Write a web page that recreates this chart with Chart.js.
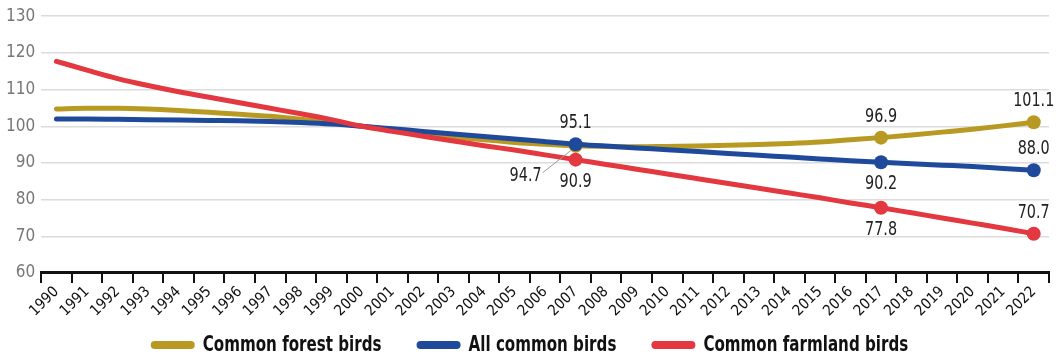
<!DOCTYPE html>
<html>
<head>
<meta charset="utf-8">
<script src="https://cdn.jsdelivr.net/npm/chart.js@4"></script>
<style>
  html, body { margin: 0; padding: 0; background: #fff; }
  #wrap { width: 1059px; height: 358px; position: relative; }
</style>
</head>
<body>
<div id="wrap"><canvas id="c"></canvas></div>
<script>
const years = ['1990','1991','1992','1993','1994','1995','1996','1997','1998','1999','2000','2001','2002','2003','2004','2005','2006','2007','2008','2009','2010','2011','2012','2013','2014','2015','2016','2017','2018','2019','2020','2021','2022'];

const forestBirds = [104.7,104.9,104.9,104.7,104.3,103.8,103.3,102.7,101.9,101.0,100.0,99.0,98.0,97.1,96.3,95.6,95.1,94.7,94.5,94.4,94.5,94.6,94.8,95.0,95.3,95.7,96.3,96.9,97.6,98.4,99.2,100.1,101.1];
const allBirds = [102.0,102.0,101.9,101.8,101.7,101.6,101.5,101.3,101.0,100.6,100.0,99.3,98.6,97.9,97.2,96.5,95.8,95.1,94.6,94.1,93.6,93.1,92.6,92.1,91.6,91.1,90.6,90.2,89.8,89.4,89.0,88.5,88.0];
const farmlandBirds = [117.7,115.3,113.0,111.1,109.4,107.9,106.4,104.9,103.4,101.8,100.0,98.6,97.3,96.0,94.7,93.5,92.2,90.9,89.6,88.3,87.0,85.7,84.4,83.1,81.8,80.5,79.1,77.8,76.4,75.0,73.6,72.2,70.7];

const seriesNames = ['Common forest birds', 'All common birds', 'Common farmland birds'];
const yTicks = [60, 70, 80, 90, 100, 110, 120, 130];

// Years whose values are marked and labelled
const markedYears = ['2007', '2017', '2022'];

const FONT = "'DejaVu Sans Condensed', 'Liberation Sans Narrow', 'Liberation Sans', sans-serif";
const colors = ['#b89a22', '#1f4a9c', '#e3383f'];
const NARROW = 0.8; // horizontal squeeze for a condensed look

// Label placement per series and year: 'above', 'below', or 'leader'
const labelPlacement = [
  { '2007': 'leader', '2017': 'above', '2022': 'above' },
  { '2007': 'above',  '2017': 'below', '2022': 'above' },
  { '2007': 'below',  '2017': 'below', '2022': 'above' }
];

function radii() {
  return years.map(y => markedYears.includes(y) ? 7 : 0);
}

function narrowText(ctx, txt, x, y, align) {
  ctx.save();
  ctx.translate(x, y);
  ctx.scale(NARROW, 1);
  ctx.textAlign = align || 'center';
  ctx.fillText(txt, 0, 0);
  ctx.restore();
}

const valueLabels = {
  id: 'valueLabels',
  afterDatasetsDraw(chart) {
    const ctx = chart.ctx;
    ctx.save();
    ctx.font = "20px " + FONT;
    ctx.fillStyle = '#222';
    ctx.textBaseline = 'middle';
    chart.data.datasets.forEach((ds, di) => {
      const meta = chart.getDatasetMeta(di);
      markedYears.forEach(y => {
        const idx = years.indexOf(y);
        const pt = meta.data[idx];
        const txt = ds.data[idx].toFixed(1);
        const mode = labelPlacement[di][y];
        if (mode === 'above') {
          narrowText(ctx, txt, pt.x, pt.y - 21);
        } else if (mode === 'below') {
          narrowText(ctx, txt, pt.x, pt.y + 22);
        } else {
          ctx.strokeStyle = '#9a9a9a';
          ctx.lineWidth = 1;
          ctx.beginPath();
          ctx.moveTo(pt.x - 5, pt.y + 5);
          ctx.lineTo(pt.x - 33, pt.y + 27);
          ctx.stroke();
          narrowText(ctx, txt, pt.x - 50, pt.y + 30);
        }
      });
    });
    ctx.restore();
  }
};

// Legend row under the axis: rounded line swatch followed by the series name
const legendRow = {
  id: 'legendRow',
  afterDraw(chart) {
    const ctx = chart.ctx;
    const swatch = 44, gapText = 8, gapItem = 35, y = 345;
    ctx.save();
    ctx.font = "bold 21px " + FONT;
    ctx.textBaseline = 'middle';
    const widths = seriesNames.map(n => ctx.measureText(n).width * NARROW);
    const total = widths.reduce((s, w) => s + swatch + gapText + w, 0) + gapItem * (seriesNames.length - 1);
    let x = (chart.width - total) / 2;
    seriesNames.forEach((n, i) => {
      ctx.strokeStyle = colors[i];
      ctx.lineWidth = 8;
      ctx.lineCap = 'round';
      ctx.beginPath();
      ctx.moveTo(x + 4, y);
      ctx.lineTo(x + swatch - 4, y);
      ctx.stroke();
      x += swatch + gapText;
      ctx.fillStyle = '#111';
      narrowText(ctx, n, x, y + 1, 'left');
      x += widths[i] + gapItem;
    });
    ctx.restore();
  }
};

const seriesData = [forestBirds, allBirds, farmlandBirds];
const drawOrder = [2, 1, 0];

new Chart(document.getElementById('c'), {
  type: 'line',
  data: {
    labels: years,
    datasets: seriesData.map((d, i) => ({
      label: seriesNames[i],
      data: d,
      borderColor: colors[i],
      backgroundColor: colors[i],
      pointBackgroundColor: colors[i],
      pointBorderWidth: 0,
      pointRadius: radii(),
      pointHoverRadius: radii(),
      borderWidth: 5,
      tension: 0.4,
      cubicInterpolationMode: 'monotone',
      borderCapStyle: 'round',
      order: drawOrder[i],
      fill: false
    }))
  },
  options: {
    responsive: true,
    maintainAspectRatio: false,
    animation: false,
    events: [],
    layout: { padding: { top: 2, right: 10, left: 0, bottom: 38 } },
    plugins: {
      tooltip: { enabled: false },
      legend: { display: false }
    },
    scales: {
      x: {
        offset: true,
        grid: { drawOnChartArea: false, offset: true, color: '#111', lineWidth: 2, tickLength: 10 },
        border: { display: true, color: '#111', width: 3 },
        ticks: {
          color: '#111',
          maxRotation: 45,
          minRotation: 45,
          autoSkip: false,
          padding: 0,
          font: { family: FONT, size: 15 }
        }
      },
      y: {
        min: 60,
        max: 130,
        afterBuildTicks: (axis) => { axis.ticks = yTicks.map(v => ({ value: v })); },
        grid: { color: '#dcdcdc', lineWidth: 1.5, drawTicks: false },
        border: { display: false },
        ticks: {
          color: '#777',
          padding: 6,
          font: { family: FONT, size: 17 }
        }
      }
    }
  },
  plugins: [valueLabels, legendRow]
});
</script>
</body>
</html>
